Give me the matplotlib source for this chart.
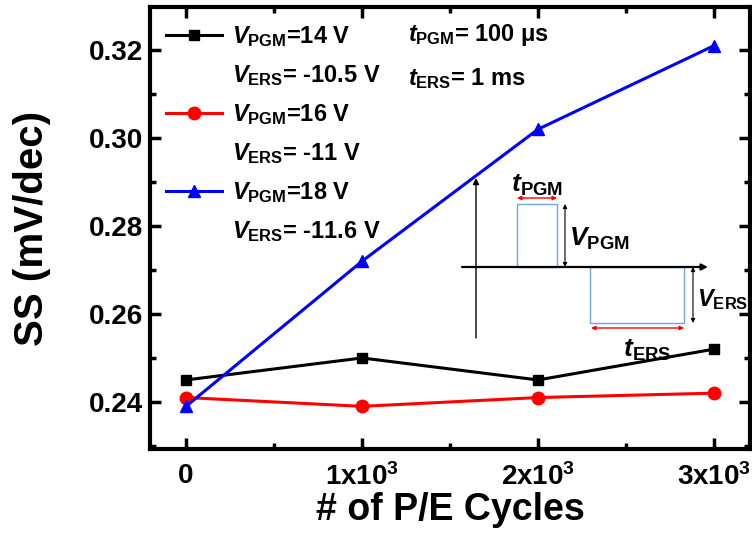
import matplotlib

matplotlib.use("Agg")
import matplotlib.pyplot as plt
from matplotlib.lines import Line2D
from matplotlib.patches import Rectangle
from matplotlib.ticker import MultipleLocator, FixedLocator

plt.rcParams["font.family"] = ["Liberation Sans", "DejaVu Sans"]
plt.rcParams["font.weight"] = "bold"
plt.rcParams["mathtext.fontset"] = "custom"
plt.rcParams["mathtext.rm"] = "Liberation Sans:bold"
plt.rcParams["mathtext.it"] = "Liberation Sans:italic:bold"
plt.rcParams["mathtext.bf"] = "Liberation Sans:bold"
# regular-weight faces for the pulse sketch
plt.rcParams["mathtext.sf"] = "Liberation Sans"
plt.rcParams["mathtext.cal"] = "Liberation Sans:italic"

cycles = [0, 1000, 2000, 3000]
ss_14v = [0.245, 0.250, 0.245, 0.252]
ss_16v = [0.241, 0.239, 0.241, 0.242]
ss_18v = [0.239, 0.272, 0.302, 0.321]

x_ticks = [0, 1000, 2000, 3000]
x_ticklabels = ["0", r"1x10$^{3}$", r"2x10$^{3}$", r"3x10$^{3}$"]

series = [
    (ss_14v, "black", "s", 7, r"$V_{\mathrm{PGM}}$=14 V", r"$V_{\mathrm{ERS}}$= -10.5 V"),
    (ss_16v, "#ff0000", "o", 9, r"$V_{\mathrm{PGM}}$=16 V", r"$V_{\mathrm{ERS}}$= -11 V"),
    (ss_18v, "#0000ff", "^", 9, r"$V_{\mathrm{PGM}}$=18 V", r"$V_{\mathrm{ERS}}$= -11.6 V"),
]

fig = plt.figure(figsize=(7.52, 5.36), dpi=100)
ax = fig.add_axes([150 / 752, 87 / 536, 600 / 752, 442 / 536])

handles, labels = [], []
for values, color, marker, msize, lab1, lab2 in series:
    (ln,) = ax.plot(cycles, values, color=color, marker=marker, markersize=msize, linewidth=2.2)
    handles += [ln, Line2D([], [], color="none")]
    labels += [lab1, lab2]

ax.set_xlim(-205, 3205)
ax.set_ylim(0.2293, 0.3298)
ax.xaxis.set_major_locator(FixedLocator(x_ticks))
ax.set_xticklabels(x_ticklabels)
ax.xaxis.set_minor_locator(MultipleLocator(500))
ax.yaxis.set_major_locator(MultipleLocator(0.02))
ax.yaxis.set_minor_locator(MultipleLocator(0.01))
ax.yaxis.set_major_formatter(plt.FormatStrFormatter("%.2f"))

ax.tick_params(which="both", direction="in", top=True, right=True, width=2.5)
ax.tick_params(which="major", length=8, labelsize=20)
ax.tick_params(which="minor", length=4)
ax.tick_params(axis="x", which="major", pad=10)
ax.tick_params(axis="y", which="major", pad=5)
for sp in ax.spines.values():
    sp.set_linewidth(3)

ax.set_xlabel("# of P/E Cycles", fontsize=27, fontweight="bold", labelpad=1)
ax.set_ylabel("SS (mV/dec)", fontsize=29, fontweight="bold", labelpad=27)

ax.legend(handles, labels, loc="upper left", bbox_to_anchor=(0.026, 0.962),
          frameon=False, fontsize=17, handlelength=2.4, handletextpad=0.4,
          labelspacing=0.6, borderaxespad=0, borderpad=0)

ax.text(0.43, 0.936, r"$t_{\mathrm{PGM}}$= 100 μs", transform=ax.transAxes,
        fontsize=17, fontweight="bold", va="center")
ax.text(0.43, 0.838, r"$t_{\mathrm{ERS}}$= 1 ms", transform=ax.transAxes,
        fontsize=17, fontweight="bold", va="center")

# pulse sketch: time axis, program pulse up, erase pulse down
ins = fig.add_axes([455 / 752, (536 - 365) / 536, 260 / 752, 195 / 536])
ins.set_xlim(-21, 239)
ins.set_ylim(-98, 97)
ins.axis("off")
ins.patch.set_alpha(0)

arrow = dict(arrowstyle="-|>", color="black", lw=1.0, mutation_scale=9, shrinkA=0, shrinkB=0)
ins.annotate("", xy=(0, 89), xytext=(0, -71), arrowprops=arrow)
ins.annotate("", xy=(232, 0), xytext=(-14, 0), arrowprops=dict(arrow, lw=1.6))

pulse_color = "#6fa8dc"
ins.add_patch(Rectangle((41, 0), 40, 63, fill=False, edgecolor=pulse_color, lw=1.0))
ins.add_patch(Rectangle((114, -56), 94, 56, fill=False, edgecolor=pulse_color, lw=1.0))

both_red = dict(arrowstyle="<|-|>", color="#ff0000", lw=1.0, mutation_scale=6, shrinkA=0, shrinkB=0)
both_blk = dict(arrowstyle="<|-|>", color="black", lw=0.8, mutation_scale=6, shrinkA=0, shrinkB=0)
ins.annotate("", xy=(41, 69), xytext=(81, 69), arrowprops=both_red)
ins.annotate("", xy=(115, -61), xytext=(208, -61), arrowprops=both_red)
ins.annotate("", xy=(89, 63), xytext=(89, 0), arrowprops=both_blk)
ins.annotate("", xy=(217, 0), xytext=(217, -56), arrowprops=both_blk)

ins.text(61, 82, r"$\mathcal{t}_{\mathsf{PGM}}$", fontsize=19, ha="center", va="center")
ins.text(93, 28, r"$\mathcal{V}_{\mathsf{PGM}}$", fontsize=19, ha="left", va="center")
ins.text(221, -33, r"$\mathcal{V}_{\mathsf{ERS}}$", fontsize=17, ha="left", va="center")
ins.text(171, -83, r"$\mathcal{t}_{\mathsf{ERS}}$", fontsize=19, ha="center", va="center")

fig.savefig("out.png", dpi=100)
